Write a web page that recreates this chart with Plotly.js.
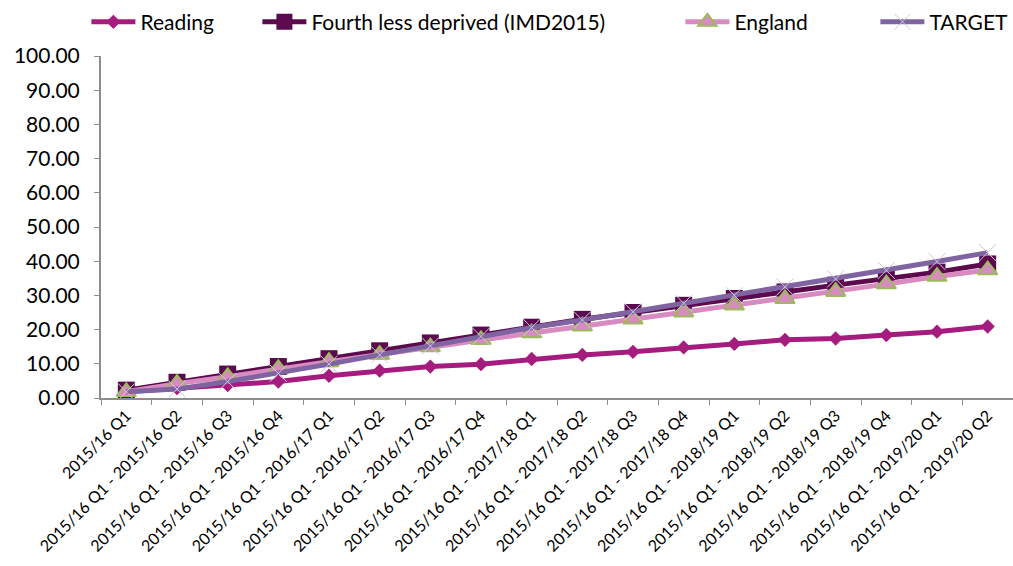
<!DOCTYPE html>
<html>
<head>
<meta charset="utf-8">
<script src="https://cdn.plot.ly/plotly-3.0.1.min.js"></script>
<style>html,body{margin:0;padding:0;background:#fff;}#chart{width:1013px;height:566px;}</style>
</head>
<body>
<div id="chart"></div>
<script>
const categories = [
  "2015/16 Q1",
  "2015/16 Q1 - 2015/16 Q2",
  "2015/16 Q1 - 2015/16 Q3",
  "2015/16 Q1 - 2015/16 Q4",
  "2015/16 Q1 - 2016/17 Q1",
  "2015/16 Q1 - 2016/17 Q2",
  "2015/16 Q1 - 2016/17 Q3",
  "2015/16 Q1 - 2016/17 Q4",
  "2015/16 Q1 - 2017/18 Q1",
  "2015/16 Q1 - 2017/18 Q2",
  "2015/16 Q1 - 2017/18 Q3",
  "2015/16 Q1 - 2017/18 Q4",
  "2015/16 Q1 - 2018/19 Q1",
  "2015/16 Q1 - 2018/19 Q2",
  "2015/16 Q1 - 2018/19 Q3",
  "2015/16 Q1 - 2018/19 Q4",
  "2015/16 Q1 - 2019/20 Q1",
  "2015/16 Q1 - 2019/20 Q2"
];
const reading = [1.8, 2.9, 3.8, 4.8, 6.5, 8.0, 9.2, 9.9, 11.4, 12.6, 13.5, 14.8, 15.8, 17.0, 17.4, 18.4, 19.4, 20.9];
const fourthLessDeprived = [2.3, 4.6, 7.0, 9.2, 11.5, 13.8, 16.1, 18.4, 20.7, 23.0, 25.0, 27.1, 29.1, 31.0, 33.0, 34.8, 36.8, 39.2];
const england = [1.8, 4.2, 6.2, 8.5, 10.6, 12.7, 14.9, 17.0, 19.0, 21.0, 23.0, 25.1, 27.1, 29.0, 31.1, 33.3, 35.5, 37.4];
const target = [1.8, 2.6, 4.8, 7.2, 9.9, 12.6, 15.2, 18.0, 20.6, 22.8, 25.2, 27.7, 30.0, 32.5, 34.8, 37.3, 39.9, 42.5];
const yTicks = [0, 10, 20, 30, 40, 50, 60, 70, 80, 90, 100];

const traces = [
  {name: "Reading", x: categories, y: reading, type: "scatter", mode: "lines+markers", legendwidth: 112,
   line: {color: "#A51C7E", width: 5}, marker: {symbol: "diamond", size: 11, color: "#A51C7E"}},
  {name: "Fourth less deprived (IMD2015)", x: categories, y: fourthLessDeprived, type: "scatter", mode: "lines+markers", legendwidth: 364,
   line: {color: "#5C0A4E", width: 5}, marker: {symbol: "square", size: 17, color: "#5C0A4E"}},
  {name: "England", x: categories, y: england, type: "scatter", mode: "lines+markers", legendwidth: 136,
   line: {color: "#D88BC0", width: 5}, marker: {symbol: "triangle-up", size: 17, color: "#D88BC0", line: {color: "#9BBB59", width: 2}}},
  {name: "TARGET", x: categories, y: target, type: "scatter", mode: "lines+markers", legendwidth: 78,
   line: {color: "#8064A2", width: 5}, marker: {symbol: "x-thin-open", size: 17, color: "#CFC6E3", line: {color: "#CFC6E3", width: 1}}}
];

const layout = {
  width: 1013, height: 566,
  margin: {l: 101, r: 0, t: 56, b: 168},
  paper_bgcolor: "#fff", plot_bgcolor: "#fff",
  font: {family: "Lato, 'Open Sans', sans-serif", color: "#000"},
  showlegend: true,
  legend: {orientation: "h", x: -0.016, xanchor: "left", y: 1.099, yanchor: "middle",
           font: {size: 21, color: "#000"}, itemwidth: 44, tracegroupgap: 0},
  xaxis: {type: "category", range: [-0.5, 17.5], tickangle: -45, tickson: "boundaries",
          ticks: "outside", ticklen: 5, tickcolor: "#8C8C8C", showline: true, linecolor: "#8C8C8C", linewidth: 2,
          showgrid: false, zeroline: false, tickfont: {size: 16, color: "#000"}, automargin: false},
  yaxis: {range: [0, 100], tickvals: yTicks, tickformat: ".2f", ticks: "outside", ticklen: 5,
          tickcolor: "#8C8C8C", showline: true, linecolor: "#8C8C8C", linewidth: 2, showgrid: false,
          zeroline: false, tickfont: {size: 21, color: "#000"}, ticklabelstandoff: 10, automargin: false}
};

Plotly.newPlot("chart", traces, layout, {displayModeBar: false, staticPlot: true});
</script>
</body>
</html>
